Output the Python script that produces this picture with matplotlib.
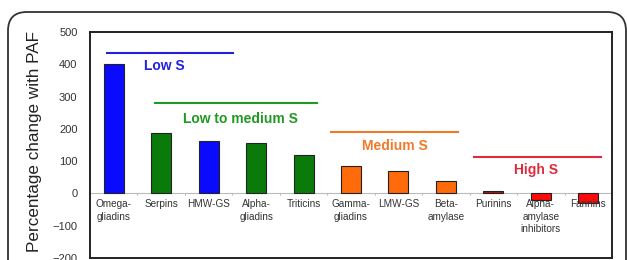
import numpy as np
import matplotlib.pyplot as plt
from matplotlib.patches import FancyBboxPatch

plt.rcParams['font.family'] = ['Liberation Sans', 'DejaVu Sans']

# data
categories = ['Omega-\ngliadins', 'Serpins', 'HMW-GS', 'Alpha-\ngliadins', 'Triticins',
              'Gamma-\ngliadins', 'LMW-GS', 'Beta-\namylase', 'Purinins',
              'Alpha-\namylase\ninhibitors', 'Farinins']
values = [400, 187, 162, 157, 119, 86, 68, 38, 7, -19, -29]
bar_colors = ['#0a0aff', '#0a7a0a', '#0a0aff', '#0a7a0a', '#0a7a0a',
              '#ff6a0a', '#ff6a0a', '#ff6a0a', '#c01010', '#ff0a0a', '#ff0a0a']

groups = ['Low S', 'Low to medium S', 'Medium S', 'High S']
group_start = [-0.14, 0.87, 4.58, 7.59]
group_end = [2.51, 4.28, 7.26, 10.27]
group_line_y = [434, 279, 191, 113]
group_text_x = [1.06, 2.68, 5.92, 8.89]
group_text_y = [394, 229, 147, 73]
group_colors = ['#2222dd', '#229922', '#f07a2a', '#e02a3a']

fig = plt.figure(figsize=(6.27, 2.6), dpi=100)

# rounded outer frame
frame = FancyBboxPatch((8/627, -0.2), (626-8)/627, 1.2 - 12/260,
                       boxstyle='round,pad=0,rounding_size=0.03',
                       transform=fig.transFigure, fill=False,
                       edgecolor='#333333', linewidth=1.3, mutation_aspect=627/260)
fig.patches.append(frame)

ax = fig.add_axes([90/627, 2/260, 522/627, 226/260])
x = np.arange(len(categories))
ax.bar(x, values, width=0.42, color=bar_colors, edgecolor='#222222', linewidth=0.8, zorder=3)

ax.set_xlim(-0.5, len(categories) - 0.5)
ax.set_ylim(-200, 500)
ax.set_yticks(np.arange(-200, 501, 100))
ax.tick_params(axis='y', length=0, labelsize=8, labelcolor='#333333', pad=9)
ax.set_xticks([])
for s in ax.spines.values():
    s.set_linewidth(1.4)
    s.set_color('#222222')

# zero line with category tick marks
ax.axhline(0, color='#bbbbbb', linewidth=0.8, zorder=1)
ax.vlines(x[:-1] + 0.5, -6, 0, color='#bbbbbb', linewidth=0.8)
for xi, lab in zip(x, categories):
    ax.text(xi, -18, lab, ha='center', va='top', fontsize=7.2, color='#333333',
            linespacing=1.3)

# sulfur group annotations
for g, s, e, ly, tx, ty, c in zip(groups, group_start, group_end, group_line_y,
                                   group_text_x, group_text_y, group_colors):
    ax.plot([s, e], [ly, ly], color=c, linewidth=1.5)
    ax.text(tx, ty, g, ha='center', va='center', fontsize=10, fontweight='bold', color=c)

fig.text(35/627, 1 - 141/260, 'Percentage change with PAF', rotation=90, ha='center',
         va='center', fontsize=12.3, color='#222222')

fig.savefig('out.png', dpi=100)
